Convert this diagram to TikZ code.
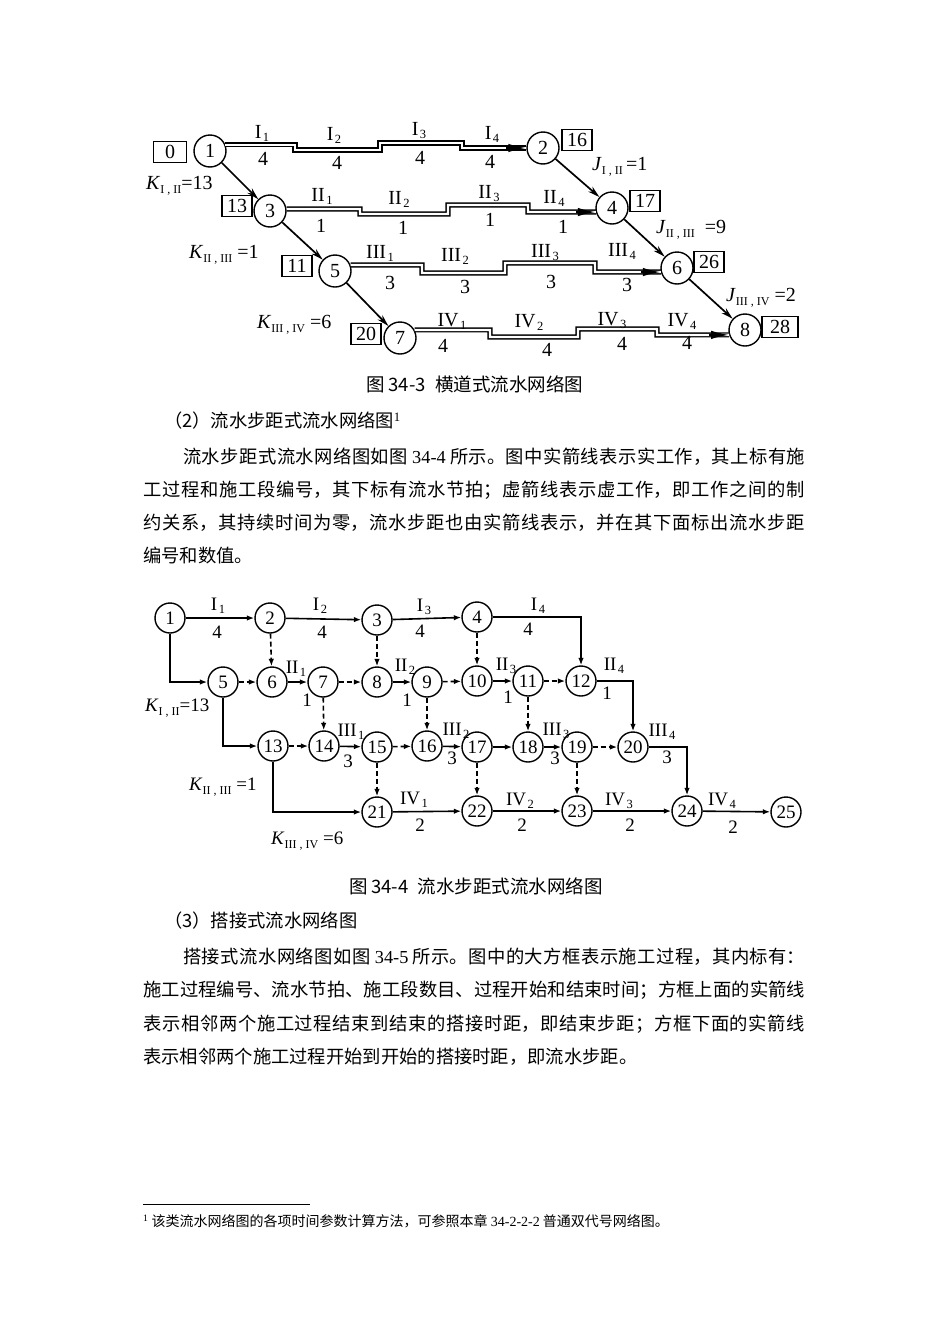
\documentclass[tikz,border=0pt]{standalone}
\usepackage{fontspec}
\setmainfont{Liberation Serif}
\newfontfamily\cjk{Noto Sans CJK SC}
\usetikzlibrary{arrows.meta}
\XeTeXlinebreaklocale "zh"
\XeTeXlinebreakskip=0pt plus 4pt
% roman numeral with a small index, and K/J with a subscript pair
\newcommand{\rs}[2]{#1\kern1.5pt\raisebox{-3pt}{\fontsize{12.5}{12.5}\selectfont #2}}
\newcommand{\kj}[3]{\textit{#1}\raisebox{-4pt}{\fontsize{12}{12}\selectfont #2}#3}
\begin{document}
\begin{tikzpicture}[x=1pt,y=-1pt,
  every node/.style={font=\fontsize{20}{22}\selectfont},
  ev/.style={draw,circle,line width=1.4pt,minimum size=32pt,inner sep=0pt},
  ev2/.style={draw,circle,line width=1.4pt,minimum size=30pt,inner sep=0pt,font=\fontsize{19}{21}\selectfont},
  tbox/.style={draw,line width=1.2pt,minimum width=30pt,minimum height=21pt,inner sep=1pt},
  bar/.style={double,line width=1.4pt,double distance=2.3pt},
  head/.style={-{Latex[length=18pt,width=8.5pt]},line width=1.8pt},
  lag/.style={-{Stealth[length=12pt,width=6.5pt]},line width=1.7pt},
  job/.style={-{Latex[length=7.5pt,width=5.5pt]},line width=1.6pt},
  dum/.style={job,dash pattern=on 5pt off 3pt},
  lab/.style={inner sep=0pt},
  lab2/.style={inner sep=0pt,font=\fontsize{19}{21}\selectfont},
  txt/.style={inner sep=0pt,anchor=west,font=\cjk\fontsize{18.3}{22}\selectfont},
  jus/.style={txt,text width=#1,align=justify}]
\fill[white] (0,0) rectangle (950,1344);
\useasboundingbox (0,0) rectangle (950,1344);

% figure 34-3
\node[ev] (n1) at (210,151) {1};
\node[ev] (n2) at (543,148) {2};
\node[ev] (n3) at (270,211) {3};
\node[ev] (n4) at (612,208) {4};
\node[ev] (n5) at (335,271) {5};
\node[ev] (n6) at (677,268) {6};
\node[ev] (n7) at (400,338) {7};
\node[ev] (n8) at (745,330) {8};
\node[tbox,minimum width=33pt] (t1) at (170,152) {0};
\node[tbox] (t3) at (237,206) {13};
\node[tbox] (t5) at (297,266) {11};
\node[tbox] (t7) at (366,334) {20};
\node[tbox] (t2) at (577,140) {16};
\node[tbox] (t4) at (645,201) {17};
\node[tbox] (t6) at (709,262) {26};
\node[tbox,minimum width=36pt] (t8) at (780,327) {28};

\draw[bar] (n1.22) -| (295,150) -| (380,143) -| (462,148) -- (n2.west);
\draw[bar] (n3.7) -| (360,214) -| (448,205) -| (528,212) -- (n4.194);
\draw[bar] (n5.21) -| (422,273) -| (505,263) -| (595,272) -- (n6.194);
\draw[bar] (n7.29) -| (490,337) -| (578,329) -| (657,335) -- (n8.197);
\draw[head] ([xshift=-20pt]n2.west) -- (n2.west);
\draw[head] ([xshift=-20pt]n4.194) -- (n4.194);
\draw[head] ([xshift=-20pt]n6.194) -- (n6.194);
\draw[head] ([xshift=-20pt]n8.197) -- (n8.197);

\draw[lag] (n1) -- (n3);
\draw[lag] (n3) -- (n5);
\draw[lag] (n5) -- (n7);
\draw[lag] (n2) -- (n4);
\draw[lag] (n4) -- (n6);
\draw[lag] (n6) -- (n8);

\foreach \x/\y/\t [count=\i] in {262/133/{\rs{I}{1}}, 263/159/4, 334/135/{\rs{I}{2}}, 337/163/4,
    419/131/{\rs{I}{3}}, 420/158/4, 492/134/{\rs{I}{4}}, 490/162/4,
    322/196/{\rs{II}{1}}, 321/226/1, 399/199/{\rs{II}{2}}, 403/228/1,
    489/194/{\rs{II}{3}}, 490/220/1, 554/198/{\rs{II}{4}}, 563/227/1,
    380/253/{\rs{III}{1}}, 390/283/3, 455/256/{\rs{III}{2}}, 465/287/3,
    545/253/{\rs{III}{3}}, 551/282/3, 622/251/{\rs{III}{4}}, 627/285/3,
    452/321/{\rs{IV}{1}}, 443/346/4, 529/322/{\rs{IV}{2}}, 547/350/4,
    612/321/{\rs{IV}{3}}, 622/344/4, 682/321/{\rs{IV}{4}}, 687/343/4}
  \node[lab] (a\i) at (\x,\y) {\t};

\node[lab,anchor=west] (k12) at (146,186) {\kj{K}{I , II}{=13}};
\node[lab,anchor=west] (k23) at (189,255) {\kj{K}{II , III}{\ =1}};
\node[lab,anchor=west] (k34) at (257,325) {\kj{K}{III , IV}{\ =6}};
\node[lab,anchor=west] (j12) at (592,167) {\kj{J}{I , II}{\,=1}};
\node[lab,anchor=west] (j23) at (656,230) {\kj{J}{II , III}{\ \ =9}};
\node[lab,anchor=west] (j34) at (726,298) {\kj{J}{III , IV}{\ =2}};

\node[txt,anchor=center,font=\cjk\fontsize{18.5}{22}\selectfont] (cap3) at (475,384) {图\,34-3\enspace 横道式流水网络图};
\node[txt] (h2) at (164,421) {（2）流水步距式流水网络图\textsuperscript{\rmfamily 1}};
\node[jus=622pt] (p1a) at (183,457) {\parfillskip=0pt 流水步距式流水网络图如图 {\rmfamily 34-4} 所示。图中实箭线表示实工作，其上标有施\par};
\node[jus=662pt] (p1b) at (143,490) {\parfillskip=0pt 工过程和施工段编号，其下标有流水节拍；虚箭线表示虚工作，即工作之间的制\par};
\node[jus=662pt] (p1c) at (143,523) {\parfillskip=0pt 约关系，其持续时间为零，流水步距也由实箭线表示，并在其下面标出流水步距\par};
\node[txt] (p1d) at (143,556) {编号和数值。};

% figure 34-4
\node[ev2] (m1) at (170,618) {1};
\node[ev2] (m2) at (270,618) {2};
\node[ev2] (m3) at (377,620) {3};
\node[ev2] (m4) at (477,617) {4};
\node[ev2] (m5) at (223,682) {5};
\node[ev2] (m6) at (272,682) {6};
\node[ev2] (m7) at (323,682) {7};
\node[ev2] (m8) at (377,682) {8};
\node[ev2] (m9) at (427,682) {9};
\node[ev2] (m10) at (477,681) {10};
\node[ev2] (m11) at (528,681) {11};
\node[ev2] (m12) at (581,681) {12};
\node[ev2] (m13) at (273,746) {13};
\node[ev2] (m14) at (324,746) {14};
\node[ev2] (m15) at (377,747) {15};
\node[ev2] (m16) at (427,746) {16};
\node[ev2] (m17) at (477,747) {17};
\node[ev2] (m18) at (528,747) {18};
\node[ev2] (m19) at (577,747) {19};
\node[ev2] (m20) at (633,747) {20};
\node[ev2] (m21) at (377,812) {21};
\node[ev2] (m22) at (477,811) {22};
\node[ev2] (m23) at (577,811) {23};
\node[ev2] (m24) at (687,811) {24};
\node[ev2] (m25) at (786,812) {25};

\foreach \a/\b in {m1/m2, m2/m3, m3/m4, m6/m7, m8/m9, m10/m11, m14/m15, m16/m17,
    m17/m18, m18/m19, m21/m22, m22/m23, m23/m24, m24/m25}
  \draw[job] (\a) -- (\b);
\draw[job] (m4) -| (m12);
\draw[job] (m12) -| (m20);
\draw[job] (m20) -| (m24);
\draw[job] (m1) |- (m5);
\draw[job] (m5) |- (m13);
\draw[job] (m13) |- (m21);
\foreach \a/\b in {m2/m6, m3/m8, m4/m10, m5/m6, m7/m8, m9/m10, m11/m12, m7/m14,
    m9/m16, m11/m18, m13/m14, m15/m16, m19/m20, m15/m21, m17/m22, m19/m23}
  \draw[dum] (\a) -- (\b);

\foreach \x/\y/\t [count=\i] in {218/606/{\rs{I}{1}}, 217/632/4, 320/606/{\rs{I}{2}}, 322/632/4,
    424/607/{\rs{I}{3}}, 420/631/4, 538/606/{\rs{I}{4}}, 528/629/4,
    296/669/{\rs{II}{1}}, 307/700/1, 405/667/{\rs{II}{2}}, 407/700/1,
    506/666/{\rs{II}{3}}, 508/697/1, 614/666/{\rs{II}{4}}, 607/693/1,
    351/732/{\rs{III}{1}}, 348/761/3, 456/731/{\rs{III}{2}}, 452/758/3,
    556/731/{\rs{III}{3}}, 555/758/3, 662/732/{\rs{III}{4}}, 667/757/3,
    414/800/{\rs{IV}{1}}, 420/825/2, 520/801/{\rs{IV}{2}}, 522/825/2,
    619/801/{\rs{IV}{3}}, 630/825/2, 722/801/{\rs{IV}{4}}, 733/827/2}
  \node[lab2] (b\i) at (\x,\y) {\t};

\node[lab2,anchor=west] (q12) at (145,708) {\kj{K}{I , II}{=13}};
\node[lab2,anchor=west] (q23) at (189,787) {\kj{K}{II , III}{\ =1}};
\node[lab2,anchor=west] (q34) at (271,841) {\kj{K}{III , IV}{\ =6}};

\node[txt,anchor=center,font=\cjk\fontsize{18.5}{22}\selectfont] (cap4) at (476,886) {图\,34-4\enspace 流水步距式流水网络图};
\node[txt] (h3) at (164,921) {（3）搭接式流水网络图};
\node[jus=622pt] (p2a) at (183,957) {\parfillskip=0pt 搭接式流水网络图如图 {\rmfamily 34-5} 所示。图中的大方框表示施工过程，其内标有：\par};
\node[jus=662pt] (p2b) at (143,990) {\parfillskip=0pt 施工过程编号、流水节拍、施工段数目、过程开始和结束时间；方框上面的实箭线\par};
\node[jus=662pt] (p2c) at (143,1024) {\parfillskip=0pt 表示相邻两个施工过程结束到结束的搭接时距，即结束步距；方框下面的实箭线\par};
\node[txt] (p2d) at (143,1057) {表示相邻两个施工过程开始到开始的搭接时距，即流水步距。};

% footnote
\draw[line width=0.8pt] (143,1204) -- (310,1204);
\node[txt,font=\cjk\fontsize{14}{16}\selectfont] (fn) at (143,1221) {\textsuperscript{\rmfamily 1} 该类流水网络图的各项时间参数计算方法，可参照本章 {\rmfamily 34-2-2-2} 普通双代号网络图。};
\end{tikzpicture}
\end{document}
